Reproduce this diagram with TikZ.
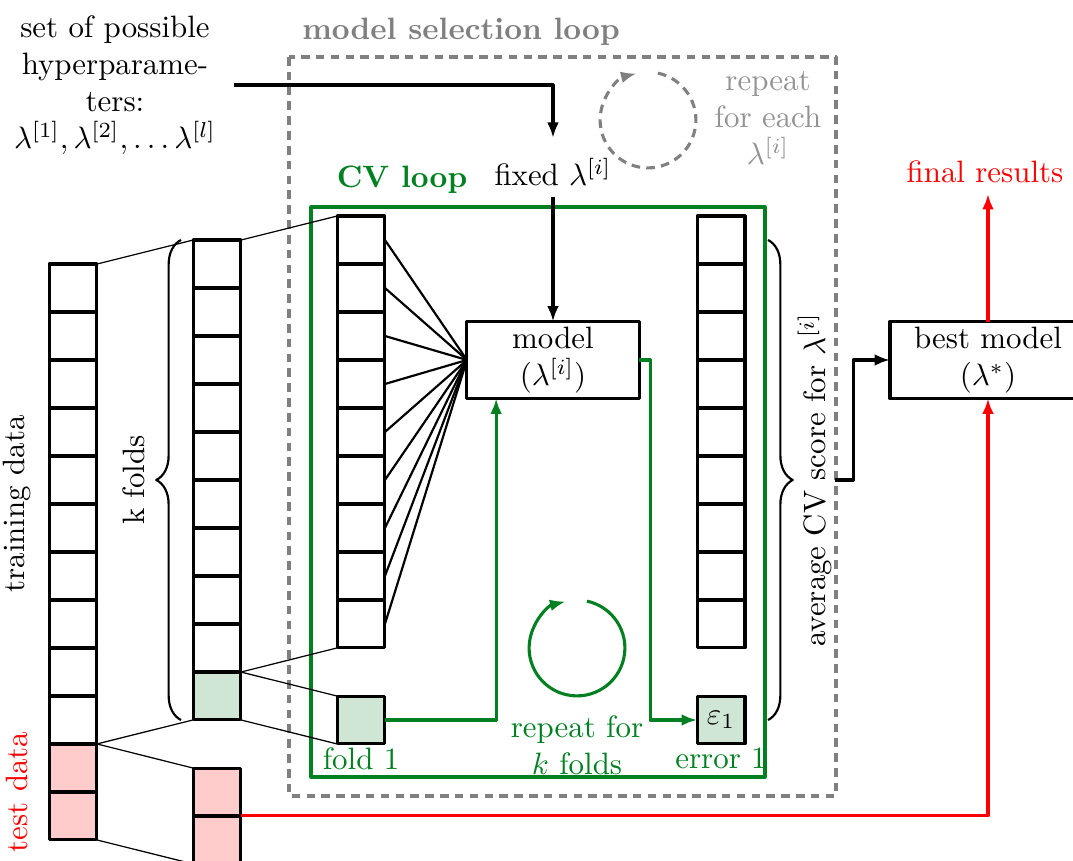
\documentclass[tikz,border=0pt]{standalone}
\usetikzlibrary{positioning}
\usetikzlibrary{arrows.meta}
\usetikzlibrary{decorations.pathreplacing}

\definecolor{cvgreen}{RGB}{0,128,32}
\definecolor{foldfill}{RGB}{207,230,212}
\definecolor{testfill}{RGB}{255,204,204}
\definecolor{loopgray}{RGB}{128,128,128}

\tikzset{
  heavy/.style={line width=1pt},
  cell/.style={draw, heavy, minimum width=15.5pt, minimum height=15.5pt, inner sep=0pt, outer sep=0pt},
  modelbox/.style={draw, heavy, minimum height=24.9pt, inner sep=0pt, outer sep=0pt, align=center},
  arr/.style={-{Latex[length=5pt,width=3.8pt]}},
  dashy/.style={heavy, dash pattern=on 2.8pt off 2pt},
  curly/.style={line width=0.7pt, decorate, decoration={brace, amplitude=8pt}}
}

\begin{document}
\begin{tikzpicture}[x=0.3236pt, y=-0.3236pt, line join=round]
  \useasboundingbox (0,0) rectangle (1073,861);
  \clip (0,0) rectangle (1073,861);

  % loops
  \draw[dashy, loopgray] (289,57) rectangle (836,796);
  \draw[heavy, cvgreen] (311,207) rectangle (765,777);
  \node[font=\bfseries, text=loopgray] (msl) at (461,32) {model selection loop};
  \node[font=\bfseries, text=cvgreen] (cvl) at (402,180) {CV loop};

  % training and test data
  \foreach \i in {0,...,9}{ \node[cell] (a\i) at (73,{288+48*\i}) {}; }
  \foreach \i in {0,1}{ \node[cell, fill=testfill] (at\i) at (73,{768+48*\i}) {}; }
  \node[rotate=90] (trainlbl) at (17,504) {training data};
  \node[rotate=90, text=red] (testlbl) at (17,792) {test data};

  % k folds
  \foreach \i in {0,...,8}{ \node[cell] (b\i) at (217,{264+48*\i}) {}; }
  \node[cell, fill=foldfill] (b9) at (217,696) {};
  \foreach \i in {0,1}{ \node[cell, fill=testfill] (bt\i) at (217,{792+48*\i}) {}; }
  \draw[curly] (181,720) -- (181,240);
  \node[rotate=90, anchor=south] (kfolds) at (156,480) {k folds};

  % inside the CV loop
  \foreach \i in {0,...,8}{
    \node[cell] (c\i) at (361,{240+48*\i}) {};
    \node[cell] (d\i) at (721,{240+48*\i}) {};
  }
  \node[cell, fill=foldfill] (fold1) at (361,720) {};
  \node[cell, fill=foldfill] (err1) at (721,720) {$\varepsilon_1$};
  \node[text=cvgreen, below=0pt of fold1, inner sep=1pt] (foldlbl) {fold 1};
  \node[text=cvgreen, below=0pt of err1, inner sep=1pt] (errlbl) {error 1};

  \draw (a0.north east) -- (b0.north west);
  \draw (a9.south east) -- (b9.south west);
  \draw (a9.south east) -- (bt0.north west);
  \draw (at1.south east) -- (bt1.south west);
  \draw (b0.north east) -- (c0.north west);
  \draw (b9.north east) -- (c8.south west);
  \draw (b9.north east) -- (fold1.north west);
  \draw (b9.south east) -- (fold1.south west);

  \node[modelbox, minimum width=55.7pt] (model) at (553,360) {model\\$(\lambda^{[i]})$};
  \foreach \i in {0,...,8}{ \draw[line width=0.7pt] (c\i.east) -- (model.west); }

  \coordinate (modelin) at ([xshift=-18.4pt]model.south);
  \draw[heavy, cvgreen, arr] (fold1.east) -| (modelin);
  \draw[heavy, cvgreen, arr] (model.east) -- ++(11,0) |- (err1.west);
  \draw[heavy, cvgreen, arr] (577,648) ++(78:15.5pt) arc[start angle=78, end angle=-256, radius=15.5pt];
  \node[text=cvgreen, align=center] (repk) at (577,745) {repeat for\\$k$ folds};

  % hyperparameters
  \node[text width=70pt, align=center] (hyp) at (115,85) {set of possible\\hyperparame-\\ters:\\$\lambda^{[1]},\lambda^{[2]},\dots\lambda^{[l]}$};
  \node (fixed) at (553,172) {fixed $\lambda^{[i]}$};
  \draw[heavy, arr, shorten >=3pt] (hyp.east) -| (fixed.north);
  \draw[heavy, arr] (fixed.south) -- (model.north);
  \draw[dashy, loopgray, arr] (648,120) ++(78:15.5pt) arc[start angle=78, end angle=-256, radius=15.5pt];
  \node[text=loopgray!85, align=center] (rep) at (768,118) {repeat\\for each\\$\lambda^{[i]}$};

  % scores and best model
  \draw[curly] (768,240) -- (768,720);
  \node[rotate=90, anchor=north, inner sep=1pt] (avg) at (794,480) {average CV score for $\lambda^{[i]}$};
  \node[modelbox, minimum width=63.4pt] (best) at (988,360) {best model\\$(\lambda^*)$};
  \draw[heavy, arr] (avg.south) -- ++(18,0) |- (best.west);
  \node[text=red] (final) at (985,172) {final results};
  \draw[heavy, red, arr] (best.north) -- (best.north |- final.south);
  \draw[heavy, red, arr] (bt0.south east) -| (best.south);
\end{tikzpicture}
\end{document}
